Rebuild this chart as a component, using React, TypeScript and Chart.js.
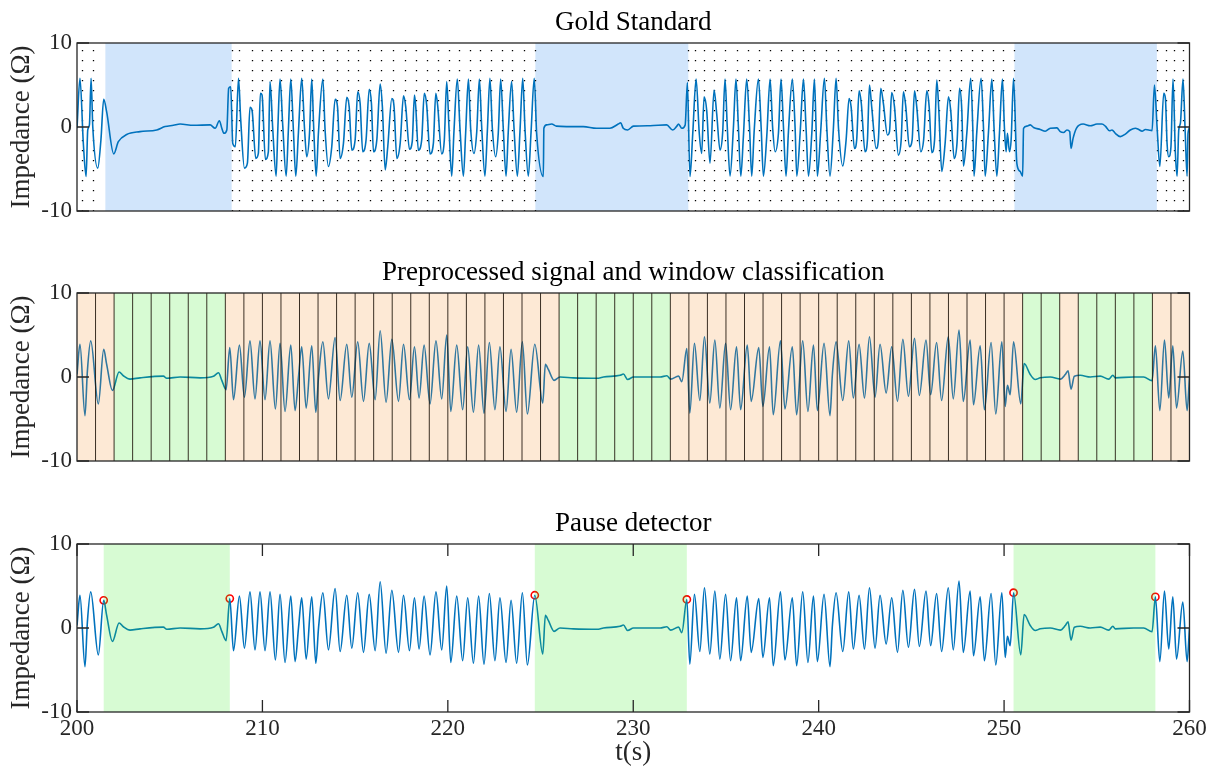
import React, { useEffect, useRef } from "react";
import { Chart, registerables } from "chart.js";

Chart.register(...registerables);

// ---------------- DATA ----------------
const X_MIN = 200;
const X_MAX = 260;
const Y_TICKS = [-10, 0, 10];
const X_TICKS = [200, 210, 220, 230, 240, 250, 260];

const titles = ["Gold Standard", "Preprocessed signal and window classification", "Pause detector"];
const yLabel = "Impedance (Ω)";
const xLabel = "t(s)";

// raw impedance (gold standard panel)
const goldT = [
  200.00, 200.16, 200.34, 200.49, 200.58, 200.67, 200.76, 200.85, 201.12, 201.29, 201.44, 201.60, 201.98, 202.23, 202.68,
  203.40, 204.30, 204.75, 205.20, 205.56, 206.28, 207.18, 207.45, 207.68, 207.81, 207.93, 208.08, 208.18, 208.29, 208.40,
  208.54, 208.71, 208.83, 209.03, 209.19, 209.33, 209.44, 209.64, 209.78, 209.89, 209.98, 210.16, 210.32, 210.41, 210.56,
  210.74, 210.83, 210.95, 211.10, 211.28, 211.40, 211.53, 211.67, 211.80, 211.94, 212.12, 212.27, 212.39, 212.54, 212.66,
  212.77, 212.90, 213.02, 213.26, 213.38, 213.56, 213.74, 213.92, 214.05, 214.19, 214.37, 214.55, 214.68, 214.82, 215.00,
  215.14, 215.27, 215.41, 215.59, 215.76, 215.88, 215.99, 216.17, 216.35, 216.47, 216.62, 216.76, 216.98, 217.10, 217.25,
  217.43, 217.61, 217.73, 217.93, 218.08, 218.20, 218.27, 218.41, 218.59, 218.73, 218.86, 219.04, 219.22, 219.35, 219.45,
  219.67, 219.81, 219.94, 220.06, 220.21, 220.33, 220.51, 220.66, 220.84, 220.96, 221.11, 221.23, 221.41, 221.56, 221.70,
  221.83, 222.00, 222.13, 222.27, 222.40, 222.58, 222.72, 222.85, 222.99, 223.14, 223.26, 223.44, 223.57, 223.75, 223.89,
  224.04, 224.16, 224.34, 224.49, 224.66, 224.79, 225.15, 225.18, 225.33, 225.60, 225.86, 226.40, 227.31, 228.02, 228.74,
  229.19, 229.32, 229.46, 229.70, 230.01, 230.91, 231.80, 232.13, 232.35, 232.44, 232.62, 232.80, 232.92, 233.06, 233.21,
  233.39, 233.56, 233.69, 233.82, 233.96, 234.14, 234.36, 234.50, 234.68, 234.82, 234.95, 235.07, 235.22, 235.40, 235.54,
  235.67, 235.80, 235.94, 236.12, 236.27, 236.39, 236.52, 236.75, 236.90, 237.02, 237.20, 237.38, 237.52, 237.65, 237.83,
  237.97, 238.10, 238.24, 238.37, 238.58, 238.73, 238.82, 239.00, 239.18, 239.32, 239.45, 239.63, 239.77, 239.86, 239.93,
  240.11, 240.31, 240.44, 240.61, 240.79, 240.94, 241.07, 241.30, 241.48, 241.64, 241.75, 241.93, 242.05, 242.18, 242.30,
  242.50, 242.63, 242.74, 242.86, 243.10, 243.22, 243.35, 243.49, 243.71, 243.82, 243.94, 244.09, 244.30, 244.45, 244.57,
  244.70, 244.89, 245.04, 245.17, 245.29, 245.51, 245.66, 245.83, 245.96, 246.10, 246.25, 246.37, 246.48, 246.64, 246.82,
  247.00, 247.12, 247.31, 247.46, 247.60, 247.72, 247.81, 247.99, 248.20, 248.31, 248.38, 248.53, 248.76, 248.89, 248.98,
  249.16, 249.34, 249.46, 249.61, 249.75, 249.91, 250.02, 250.11, 250.18, 250.29, 250.38, 250.51, 250.69, 250.87, 251.00,
  251.05, 251.23, 251.41, 251.59, 251.95, 252.22, 252.49, 252.85, 253.03, 253.21, 253.39, 253.54, 253.61, 253.72, 253.90,
  254.26, 254.65, 255.01, 255.28, 255.46, 255.69, 255.82, 256.00, 256.27, 256.54, 256.81, 257.08, 257.26, 257.44, 257.62,
  257.80, 257.98, 258.11, 258.25, 258.40, 258.61, 258.70, 258.79, 258.88, 259.00, 259.11, 259.24, 259.33, 259.42, 259.51,
  259.65, 259.77, 259.87, 259.92, 260.00,
];
const goldV = [
  -0.15, 5.8, -1.9, -5.9, -0.35, 0.25, 5.8, 0.05, -4.9, -1.55, 3.3, 1.8, -3.2, -1.75, -0.9,
  -0.55, -0.35, 0.05, 0.2, 0.35, 0.2, 0.25, -0.15, 0.75, -0.15, -0.75, -0.35, 4.6, 4.8, -1.95,
  -2.35, 5.8, 0.85, -4.9, -4.3, 2.35, 2.0, -3.75, -3.15, 4.0, 3.8, -3.85, -2.95, 5.4, -0.35,
  -5.85, -0.35, 5.7, 0.05, -5.85, -0.35, 5.7, -0.35, -5.85, -0.75, 5.8, -0.15, -3.55, -0.75, 5.7,
  -0.35, -5.85, -0.75, 5.7, -0.35, -4.7, -2.35, 3.3, 2.4, -3.75, -1.95, 3.55, 2.4, -2.75, -1.55,
  4.2, 2.8, -2.95, -1.55, 4.5, 2.8, -2.95, -1.55, 5.1, 2.4, -5.1, -2.35, 3.4, 2.4, -3.75,
  -1.95, 3.7, 2.4, -2.65, -1.75, 3.8, 2.4, -2.75, -1.55, 4.0, 2.6, -3.2, -1.95, 4.0, 2.6,
  -3.2, -1.55, 5.4, 0.05, -5.85, -0.55, 5.7, -0.35, -5.85, -0.75, 5.7, -0.15, -3.15, -0.55, 5.7,
  -0.15, -5.85, -0.55, 5.8, -0.15, -3.55, -0.75, 5.7, -0.15, -5.85, -0.55, 5.4, -0.15, -5.85, -0.55,
  5.8, -0.15, -5.85, -0.55, 5.8, -0.75, -5.9, -0.15, 0.25, 0.35, 0.1, 0.05, 0.05, -0.15, -0.15,
  0.35, 0.5, -0.15, -0.35, 0.1, 0.15, 0.25, -0.35, 0.1, 0.35, -0.15, 0.25, 5.3, -5.9, -0.75,
  5.7, -0.75, -3.15, 3.6, 2.0, -4.3, 4.4, 1.6, -2.75, -0.75, 5.7, 0.05, -5.85, -0.15, 5.7,
  0.05, -5.85, -1.15, 5.7, 0.05, -5.85, -0.55, 5.7, -0.15, -5.85, -1.15, 5.7, -0.15, -2.95, -0.75,
  5.7, 0.05, -5.85, -0.55, 5.7, -0.15, -5.85, -0.75, 5.7, -0.15, -5.85, -0.75, 5.7, -0.15, -5.85,
  -0.5, 5.8, -0.15, -5.85, -0.35, 5.8, -0.15, -4.65, -1.55, 3.4, 2.4, -2.55, -1.55, 4.3, 2.8,
  -2.95, -1.55, 5.0, 2.4, -2.55, -1.55, 4.6, 2.8, -0.95, -0.55, 4.1, 2.4, -3.35, -1.55, 4.2,
  2.4, -2.35, -1.55, 4.3, 2.4, -2.95, -1.55, 4.3, 2.4, -3.05, -1.55, 5.6, 2.0, -5.3, -1.95,
  3.6, 2.0, -3.75, -1.95, 4.6, 2.0, -4.65, -0.75, 5.8, 0.05, -5.85, -0.55, 5.8, -0.15, -5.85,
  -0.55, 5.7, -0.15, -5.85, -0.75, 5.7, -0.15, -2.95, -0.75, -2.95, -1.55, 5.8, -4.35, -5.3, -5.85,
  -0.15, 0.1, 0.25, -0.05, -0.3, -0.5, -0.15, -0.1, -0.55, -0.65, -0.35, -0.55, -2.55, -1.35, -0.15,
  0.35, 0.15, 0.35, 0.35, 0.1, -0.45, -0.35, -0.75, -1.15, -0.85, -0.35, -0.15, -0.3, -0.5, -0.3,
  -0.35, -0.45, 5.0, 0.05, -4.7, 4.0, 3.4, -1.95, -3.55, -2.35, 5.7, -3.15, -5.85, -0.35, 0.45,
  5.7, -0.75, -5.85, -0.75, -0.1,
];

// preprocessed signal (panels 2 and 3)
const procT = [
  200.00, 200.16, 200.43, 200.56, 200.74, 201.15, 201.44, 201.60, 201.91, 202.27, 202.50, 202.86, 203.40, 204.66, 204.84,
  205.56, 206.64, 207.36, 207.63, 207.81, 208.04, 208.24, 208.44, 208.76, 209.03, 209.33, 209.60, 209.87, 210.14, 210.41,
  210.70, 210.95, 211.22, 211.53, 211.76, 211.95, 212.12, 212.36, 212.66, 212.88, 213.03, 213.26, 213.56, 213.92, 214.19,
  214.55, 214.82, 215.14, 215.45, 215.76, 216.08, 216.35, 216.67, 216.98, 217.34, 217.61, 217.93, 218.20, 218.45, 218.72,
  219.04, 219.36, 219.67, 219.94, 220.16, 220.48, 220.80, 221.07, 221.38, 221.66, 221.95, 222.24, 222.54, 222.81, 223.14,
  223.41, 223.71, 224.02, 224.29, 224.69, 225.12, 225.26, 225.42, 225.73, 226.05, 226.77, 228.12, 228.39, 229.29, 229.47,
  229.70, 230.01, 231.45, 231.81, 232.02, 232.44, 232.62, 232.89, 233.05, 233.30, 233.59, 233.84, 234.13, 234.40, 234.67,
  234.98, 235.25, 235.57, 235.79, 236.15, 236.36, 236.77, 236.99, 237.35, 237.55, 237.94, 238.18, 238.58, 238.81, 239.14,
  239.42, 239.72, 239.93, 240.29, 240.61, 240.74, 240.94, 241.30, 241.62, 241.87, 242.18, 242.47, 242.74, 243.04, 243.31,
  243.64, 243.94, 244.25, 244.54, 244.84, 245.17, 245.43, 245.79, 246.04, 246.36, 246.63, 246.99, 247.26, 247.57, 247.80,
  248.17, 248.35, 248.71, 248.94, 249.30, 249.55, 249.88, 250.06, 250.18, 250.33, 250.51, 250.90, 251.08, 251.41, 251.68,
  251.95, 252.49, 253.03, 253.30, 253.45, 253.61, 253.79, 254.11, 254.65, 255.19, 255.64, 255.87, 256.00, 256.99, 257.53,
  257.98, 258.16, 258.40, 258.65, 258.88, 259.10, 259.30, 259.64, 259.87, 260.00,
];
const procV = [
  0.3, 3.9, -4.6, 0.7, 4.3, -3.2, 3.3, 1.5, -1.6, 0.6, 0.15, -0.25, -0.1, 0.1, -0.15,
  0, -0.1, 0.1, 0.5, -0.4, -1.5, 3.5, -2.7, 3.8, -2.4, 4.3, -2.6, 4.3, -2.7, 4.3,
  -3.8, 4.0, -4.1, 3.8, -4.0, 0.1, 3.6, -3.7, 3.7, -4.2, 0.1, 4.2, -2.6, 4.7, -2.8,
  3.9, -2.4, 4.2, -2.9, 4.0, -2.7, 5.5, -3.0, 4.5, -2.9, 3.9, -2.7, 3.6, -2.5, 3.8,
  -3.2, 4.3, -2.6, 5.0, -4.1, 3.8, -3.9, 3.6, -4.2, 3.8, -4.3, 4.1, -3.9, 3.6, -4.1,
  3.3, -4.2, 4.2, -4.4, 3.9, -3.1, 1.5, 0.9, -0.4, 0, -0.1, -0.15, 0, 0.2, 0.35,
  -0.3, 0, 0, 0.15, -0.25, 0.1, -0.55, 3.4, -4.3, 4.0, -2.8, 4.8, -3.1, 4.4, -3.7,
  4.0, -3.9, 3.6, -3.9, 3.8, -2.9, 3.5, -3.5, 3.6, -4.5, 4.3, -3.8, 3.6, -4.5, 4.3,
  -4.1, 3.8, -4.0, 4.0, -4.6, 0.3, 4.2, -2.8, 4.3, -2.5, 3.9, -2.5, 4.8, -2.4, 3.9,
  -1.9, 3.6, -2.9, 4.5, -2.3, 4.6, -2.2, 4.4, -2.1, 4.1, -2.8, 4.8, -2.6, 5.6, -2.9,
  4.4, -3.3, 3.7, -3.9, 4.1, -4.4, 4.2, -3.5, -1.0, -2.1, 4.2, -3.2, 1.6, 0.3, -0.3,
  -0.1, 0, -0.25, 0.3, 0.75, -1.45, 0.1, 0.2, 0, 0.1, -0.25, 0.2, -0.1, 0, 0,
  -0.45, 3.7, -4.0, 4.4, -2.5, 3.7, -3.7, 3.1, -4.0, 0,
];

// gold standard annotations
const compressionT = [
  200.25, 200.85,
  208.34, 208.75, 209.42, 209.96, 210.46, 211.00, 211.54, 212.12, 212.69, 213.28, 214.04, 214.62, 215.17, 215.82,
  216.40, 217.06, 217.68, 218.28, 218.86, 219.46, 220.05, 220.62, 221.18, 221.75, 222.31, 222.91, 223.48, 224.09, 224.72,
  232.97, 233.33, 233.82, 234.37, 234.95, 235.58, 236.21, 236.79, 237.38, 237.97, 238.58, 239.17, 239.77, 240.40, 241.03,
  241.73, 242.29, 242.86, 243.46, 244.07, 244.68, 245.29, 245.92, 246.51, 247.09, 247.66, 248.26, 248.83, 249.39, 249.96, 250.56,
  258.24, 258.74, 259.17, 259.67,
];
const goldPauseStart = [201.53, 224.72, 250.56];
const goldPauseEnd = [208.34, 232.97, 258.24];

// 1-second window classification (0 = compressions, 1 = pause), windows start at 200
const windowClass = [
  0, 0, 1, 1, 1, 1, 1, 1, 0, 0, 0, 0, 0, 0, 0, 0, 0, 0, 0, 0, 0, 0, 0, 0, 0, 0, 1, 1, 1, 1,
  1, 1, 0, 0, 0, 0, 0, 0, 0, 0, 0, 0, 0, 0, 0, 0, 0, 0, 0, 0, 0, 1, 1, 0, 1, 1, 1, 1, 0, 0,
];

// pause detector output
const detPauseStart = [201.44, 224.69, 250.51];
const detPauseEnd = [208.24, 232.89, 258.16];
const detMarkT = [201.44, 208.24, 224.69, 232.89, 250.51, 258.16];
const detMarkV = [3.3, 3.5, 3.9, 3.4, 4.2, 3.7];

// ---------------- STYLE ----------------
const FONT = '"Liberation Serif", "Times New Roman", serif';
const LINE_BLUE = "#0072bd";
const AXIS_COL = "#262626";

Chart.defaults.font.family = FONT;

type Band = { from: number; to: number; color: string };

function makeDecor(o: {
  title: string;
  under?: Band[];
  dotted?: number[];
  over?: Band[];
  edges?: number[];
  xTicks?: boolean;
}) {
  return {
    id: "decor",
    beforeDatasetsDraw(chart: any) {
      const { ctx, chartArea: a } = chart;
      const x = chart.scales.x;
      ctx.save();
      if (o.under) {
        for (const b of o.under) {
          const x0 = x.getPixelForValue(b.from);
          const x1 = x.getPixelForValue(b.to);
          ctx.fillStyle = b.color;
          ctx.fillRect(x0, a.top, x1 - x0, a.bottom - a.top);
        }
      }
      if (o.dotted) {
        ctx.strokeStyle = "#000";
        ctx.lineWidth = 1.3;
        ctx.setLineDash([1.3, 8.7]);
        ctx.lineDashOffset = -7;
        for (const t of o.dotted) {
          const px = Math.round(x.getPixelForValue(t)) + 0.5;
          ctx.beginPath();
          ctx.moveTo(px, a.top);
          ctx.lineTo(px, a.bottom);
          ctx.stroke();
        }
      }
      ctx.restore();
    },
    afterDatasetDraw(chart: any, args: any) {
      if (args.index !== 0) return;
      const { ctx, chartArea: a } = chart;
      const x = chart.scales.x;
      ctx.save();
      if (o.over) {
        for (const b of o.over) {
          const x0 = x.getPixelForValue(b.from);
          const x1 = x.getPixelForValue(b.to);
          ctx.fillStyle = b.color;
          ctx.fillRect(x0, a.top, x1 - x0, a.bottom - a.top);
        }
      }
      if (o.edges) {
        ctx.strokeStyle = "rgba(25,15,5,0.85)";
        ctx.lineWidth = 1;
        for (const t of o.edges) {
          const px = x.getPixelForValue(t);
          ctx.beginPath();
          ctx.moveTo(px, a.top);
          ctx.lineTo(px, a.bottom);
          ctx.stroke();
        }
      }
      ctx.restore();
    },
    afterDraw(chart: any) {
      const { ctx, chartArea: a } = chart;
      const x = chart.scales.x;
      const y = chart.scales.y;
      ctx.save();
      ctx.strokeStyle = AXIS_COL;
      ctx.lineWidth = 1.3;
      ctx.strokeRect(a.left, a.top, a.right - a.left, a.bottom - a.top);
      const tl = 12;
      ctx.beginPath();
      for (const v of Y_TICKS) {
        const py = y.getPixelForValue(v);
        ctx.moveTo(a.left, py);
        ctx.lineTo(a.left + tl, py);
        ctx.moveTo(a.right, py);
        ctx.lineTo(a.right - tl, py);
      }
      if (o.xTicks) {
        for (const v of X_TICKS) {
          const px = x.getPixelForValue(v);
          ctx.moveTo(px, a.bottom);
          ctx.lineTo(px, a.bottom - tl);
          ctx.moveTo(px, a.top);
          ctx.lineTo(px, a.top + tl);
        }
      }
      ctx.stroke();
      ctx.fillStyle = "#000";
      ctx.font = `27px ${FONT}`;
      ctx.textAlign = "center";
      ctx.textBaseline = "alphabetic";
      ctx.fillText(o.title, (a.left + a.right) / 2, a.top - 13);
      ctx.restore();
    },
  };
}

function toPoints(ts: number[], vs: number[]) {
  return ts.map((t, i) => ({ x: t, y: vs[i] }));
}

function lineDataset(ts: number[], vs: number[]) {
  return {
    data: toPoints(ts, vs),
    borderColor: LINE_BLUE,
    borderWidth: 1.6,
    pointRadius: 0,
    cubicInterpolationMode: "monotone",
    fill: false,
  };
}

type PanelProps = {
  top: number;
  height: number;
  padTop: number;
  padBottom: number;
  showX: boolean;
  datasets: any[];
  decor: any;
};

function Panel({ top, height, padTop, padBottom, showX, datasets, decor }: PanelProps) {
  const ref = useRef<HTMLCanvasElement | null>(null);
  useEffect(() => {
    if (!ref.current) return;
    const xScale: any = {
      type: "linear",
      min: X_MIN,
      max: X_MAX,
      display: showX,
      grid: { display: false, drawTicks: false },
      border: { display: false },
      ticks: {
        stepSize: 10,
        padding: 3,
        color: AXIS_COL,
        maxRotation: 0,
        autoSkip: false,
        font: { family: FONT, size: 23 },
      },
      title: {
        display: showX,
        text: xLabel,
        color: AXIS_COL,
        font: { family: FONT, size: 27 },
        padding: { top: 0, bottom: 2.5 },
      },
    };
    if (showX) {
      xScale.afterFit = (s: any) => {
        s.height = 60;
      };
    }
    const chart = new Chart(ref.current, {
      type: "line",
      data: { datasets },
      options: {
        animation: false,
        responsive: false,
        devicePixelRatio: 1,
        layout: { padding: { top: padTop, bottom: padBottom, left: 0, right: 24.5 } },
        plugins: { legend: { display: false }, tooltip: { enabled: false }, title: { display: false } },
        scales: {
          x: xScale,
          y: {
            type: "linear",
            min: -10,
            max: 10,
            grid: { display: false, drawTicks: false },
            border: { display: false },
            ticks: {
              stepSize: 10,
              padding: 5,
              color: AXIS_COL,
              font: { family: FONT, size: 23 },
            },
            title: {
              display: true,
              text: yLabel,
              color: AXIS_COL,
              font: { family: FONT, size: 27 },
              padding: { top: 6, bottom: 0 },
            },
            afterFit: (s: any) => {
              s.width = 77;
            },
          },
        },
      } as any,
      plugins: [decor],
    } as any);
    return () => chart.destroy();
  }, []);
  return (
    <canvas
      ref={ref}
      width={1214}
      height={height}
      style={{ position: "absolute", left: 0, top, width: 1214, height, display: "block" }}
    />
  );
}

export default function App() {
  const goldBands: Band[] = goldPauseStart.map((s, i) => ({ from: s, to: goldPauseEnd[i], color: "#d1e5fb" }));
  const windowBands: Band[] = windowClass.map((c, i) => ({
    from: X_MIN + i,
    to: X_MIN + i + 1,
    color: c === 1 ? "rgba(55,235,35,0.2)" : "rgba(245,145,45,0.2)",
  }));
  const windowEdges = windowClass.map((_, i) => X_MIN + i).filter((t) => t > X_MIN);
  const detBands: Band[] = detPauseStart.map((s, i) => ({
    from: s,
    to: detPauseEnd[i],
    color: "rgba(55,235,35,0.2)",
  }));

  const markers = {
    data: toPoints(detMarkT, detMarkV),
    showLine: false,
    pointRadius: 3.6,
    pointBorderWidth: 1.6,
    pointBorderColor: "#ff0000",
    pointBackgroundColor: "rgba(0,0,0,0)",
  };

  return (
    <div style={{ position: "absolute", left: 0, top: 0, width: 1214, height: 772, background: "#fff" }}>
      <Panel
        top={0}
        height={250}
        padTop={43}
        padBottom={39}
        showX={false}
        datasets={[lineDataset(goldT, goldV)]}
        decor={makeDecor({ title: titles[0], under: goldBands, dotted: compressionT })}
      />
      <Panel
        top={250}
        height={250}
        padTop={43}
        padBottom={39}
        showX={false}
        datasets={[lineDataset(procT, procV)]}
        decor={makeDecor({ title: titles[1], over: windowBands, edges: windowEdges })}
      />
      <Panel
        top={500}
        height={272}
        padTop={44}
        padBottom={0}
        showX={true}
        datasets={[lineDataset(procT, procV), markers]}
        decor={makeDecor({ title: titles[2], over: detBands, xTicks: true })}
      />
    </div>
  );
}
